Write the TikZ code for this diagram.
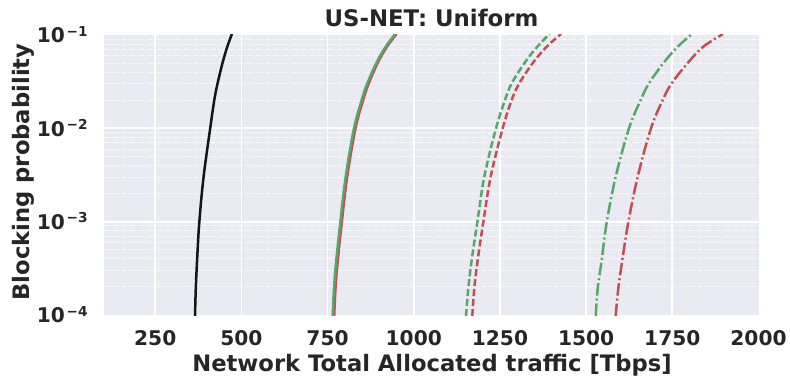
\documentclass[tikz,border=0pt]{standalone}
\usepackage{fontspec}
\setmainfont{DejaVu Sans}
\definecolor{axbg}{HTML}{EAEAF2}
\definecolor{txt}{HTML}{262626}
\definecolor{sgreen}{HTML}{55A868}
\definecolor{sred}{HTML}{C44E52}
\definecolor{sblack}{HTML}{151515}
\tikzset{
  majorgrid/.style={white, line width=0.034cm},
  minorgrid/.style={white, opacity=0.75, line width=0.02cm,
    dash pattern=on 0.1cm off 0.03cm on 0.02cm off 0.03cm},
  curve/.style={line width=0.05cm, line join=round, smooth, tension=0.6},
  dashedcurve/.style={curve, dash pattern=on 0.14cm off 0.06cm},
  dashdotcurve/.style={curve, dash pattern=on 0.25cm off 0.06cm on 0.04cm off 0.06cm},
  ticklabel/.style={text=txt, font=\fontsize{11.5}{12}\selectfont\bfseries, inner sep=0pt},
  axlabel/.style={text=txt, font=\fontsize{12.9}{14}\selectfont\bfseries, inner sep=0pt},
}
\begin{document}
\begin{tikzpicture}[x=0.02cm, y=-0.02cm]
\useasboundingbox (0,0) rectangle (790,381);

% axes face
\fill[axbg] (103.5,35) rectangle (758.5,315);

% minor horizontal grid (log scale, 2..9 in each decade)
\foreach \k in {0,1,2}{
  \foreach \m in {2,...,9}{
    \pgfmathsetmacro{\yy}{315-93.3333*(\k+log10(\m))}
    \draw[minorgrid] (103.5,\yy) -- (758.5,\yy);
  }
}
% major grid
\foreach \d in {250,500,...,1750}{
  \pgfmathsetmacro{\xx}{103.5+(\d-100)*0.344737}
  \draw[majorgrid] (\xx,35) -- (\xx,315);
}
\foreach \yy in {128.333,221.667}{
  \draw[majorgrid] (103.5,\yy) -- (758.5,\yy);
}

% curves
\begin{scope}
\clip (103.5,35) rectangle (758.5,315);
\draw[curve, sblack] plot coordinates {(195,316) (195.8,288.3) (197.1,260) (199.3,222.3)
  (203.6,176.7) (210.2,128.3) (214.3,100) (217.6,83.3) (222.7,62.3) (227.3,46.7) (231.9,34)};
\draw[curve, sred] plot coordinates {(334.2,316) (335.5,288.3) (337.8,260) (341.8,222.3)
  (347.2,176.7) (355.5,128.3) (363.2,100) (368.8,83.3) (378,62.3) (387,46.7) (396.5,34)};
\draw[curve, sgreen] plot coordinates {(332.7,316) (334,288.3) (336.3,260) (340.3,222.3)
  (345.7,176.7) (354,128.3) (361.7,100) (367.3,83.3) (376.7,62.3) (385.7,46.7) (395.2,34)};
\draw[dashedcurve, sgreen] plot coordinates {(466,316) (468.3,288.3) (471.7,260) (477.3,222.3)
  (484.3,176.7) (496,128.3) (505,100) (511.7,83.3) (525,62.3) (537.3,46.7) (549.5,34)};
\draw[dashedcurve, sred] plot coordinates {(472.3,316) (474.3,288.3) (477.7,260) (483.3,222.3)
  (490.7,176.7) (502.7,128.3) (511.7,100) (519.3,83.3) (533.3,62.3) (546.7,46.7) (561,34)};
\draw[dashdotcurve, sgreen] plot coordinates {(595.7,316) (597.7,288.3) (601.7,260) (606.7,222.3)
  (615.7,176.7) (629,128.3) (640.7,100) (649,83.3) (664,62.3) (677.7,46.7) (692,34)};
\draw[dashdotcurve, sred] plot coordinates {(615.7,316) (618.3,288.3) (622.3,260) (628.3,222.3)
  (637.7,176.7) (651,128.3) (662.7,100) (671.7,83.3) (688.3,62.3) (703.3,46.7) (723,34)};
\end{scope}

% x tick labels
\foreach \d in {250,500,750,1000,1250,1500,1750,2000}{
  \pgfmathsetmacro{\xx}{103.5+(\d-100)*0.344737}
  \node[ticklabel, anchor=base] (xt\d) at (\xx,345) {\d};
}
% y tick labels
\foreach \e/\yy in {1/35,2/128.333,3/221.667,4/315}{
  \node[ticklabel, anchor=base east] (yt\e) at (88,\yy+7.7)
    {10\hspace{0.08em}\raisebox{3.8pt}{\fontsize{7.8}{8}\selectfont\bfseries −\e}};
}

% title and axis labels
\node[axlabel, font=\fontsize{13}{15}\selectfont\bfseries, anchor=base] (title) at (431.5,26.7) {US-NET: Uniform};
\node[axlabel, anchor=base] (xlabel) at (432,371.7) {Network Total Allocated traffic [Tbps]};
\node[axlabel, anchor=base, rotate=90] (ylabel) at (30,172) {Blocking probability};
\end{tikzpicture}
\end{document}
